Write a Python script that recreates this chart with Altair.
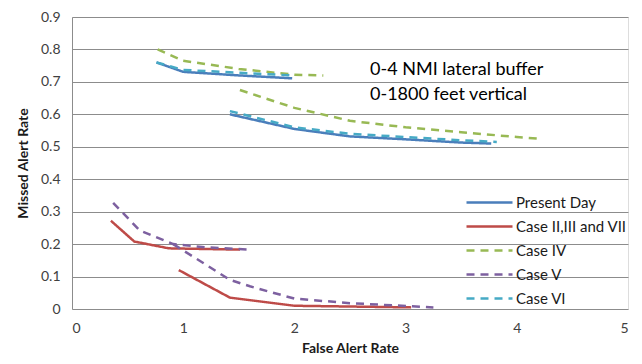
import altair as alt
import pandas as pd

series_names = ["Present Day", "Case II,III and VII", "Case IV", "Case V", "Case VI"]
series_colors = ["#4a7ebb", "#be4b48", "#98b954", "#7d60a0", "#46aac5"]
series_dash = [[1, 0], [1, 0], [8, 6], [8, 6], [8, 6]]

pd1_x = [0.76, 1.0, 1.5, 1.98]
pd1_y = [0.76, 0.731, 0.72, 0.711]
pd2_x = [1.42, 2.0, 2.5, 3.0, 3.5, 3.77]
pd2_y = [0.60, 0.555, 0.532, 0.523, 0.513, 0.51]

red1_x = [0.35, 0.56, 0.87, 1.51]
red1_y = [0.272, 0.208, 0.187, 0.183]
red2_x = [0.96, 1.42, 2.0, 3.05]
red2_y = [0.12, 0.035, 0.01, 0.005]

g1_x = [0.77, 1.0, 1.5, 2.0, 2.26]
g1_y = [0.80, 0.765, 0.74, 0.722, 0.72]
g2_x = [1.51, 2.0, 2.5, 3.0, 3.5, 4.0, 4.2]
g2_y = [0.675, 0.62, 0.58, 0.56, 0.545, 0.53, 0.525]

v1_x = [0.37, 0.61, 0.91, 1.2, 1.6]
v1_y = [0.327, 0.242, 0.20, 0.19, 0.183]
v2_x = [0.91, 1.42, 1.6, 2.0, 2.5, 3.25]
v2_y = [0.20, 0.09, 0.07, 0.032, 0.018, 0.005]

c1_x = [0.76, 1.0, 1.5, 1.98]
c1_y = [0.76, 0.737, 0.728, 0.72]
c2_x = [1.42, 2.0, 2.5, 3.0, 3.5, 3.82]
c2_y = [0.61, 0.56, 0.54, 0.53, 0.52, 0.515]

x_ticks = [0, 1, 2, 3, 4, 5]
y_ticks = [0, 0.1, 0.2, 0.3, 0.4, 0.5, 0.6, 0.7, 0.8, 0.9]

note_lines = ["0-4 NMI lateral buffer", "0-1800 feet vertical"]
note_x = [2.68, 2.68]
note_y = [0.737, 0.66]

segments = [
    ("Present Day", "pd1", pd1_x, pd1_y),
    ("Present Day", "pd2", pd2_x, pd2_y),
    ("Case II,III and VII", "r1", red1_x, red1_y),
    ("Case II,III and VII", "r2", red2_x, red2_y),
    ("Case IV", "g1", g1_x, g1_y),
    ("Case IV", "g2", g2_x, g2_y),
    ("Case V", "v1", v1_x, v1_y),
    ("Case V", "v2", v2_x, v2_y),
    ("Case VI", "c1", c1_x, c1_y),
    ("Case VI", "c2", c2_x, c2_y),
]
rows = []
for name, seg, xs, ys in segments:
    for i, (x, y) in enumerate(zip(xs, ys)):
        rows.append({"series": name, "seg": seg, "i": i, "x": x, "y": y})
df = pd.DataFrame(rows)
notes = pd.DataFrame({"t": note_lines, "x": note_x, "y": note_y})

FONT = "Lato"

X = alt.X("x:Q", scale=alt.Scale(domain=[0, 5]),
          axis=alt.Axis(title="False Alert Rate", values=x_ticks, grid=False,
                        ticks=False, domain=False, labelFontSize=14, labelPadding=12,
                        labelColor="#404040", titleFontSize=14, titleFontWeight="bold",
                        titleColor="#1a1a1a", titlePadding=6, labelFont=FONT, titleFont=FONT))
Y = alt.Y("y:Q", scale=alt.Scale(domain=[0, 0.9]),
          axis=alt.Axis(title="Missed Alert Rate", values=y_ticks,
                        format="~g", grid=True, gridColor="#8c8c8c", gridWidth=1,
                        ticks=False, domain=True, domainColor="#8c8c8c", domainWidth=1,
                        labelFontSize=14, labelPadding=12, labelColor="#404040",
                        titleFontSize=14, titleFontWeight="bold", titleColor="#1a1a1a",
                        titlePadding=10, labelFont=FONT, titleFont=FONT, labelOverlap=False))

lines = alt.Chart(df).mark_line(strokeWidth=2.5).encode(
    x=X,
    y=Y,
    color=alt.Color("series:N", scale=alt.Scale(domain=series_names, range=series_colors),
                    sort=series_names,
                    legend=alt.Legend(title=None, orient="none", legendX=419, legendY=174,
                                      symbolType="M-3.6,0H1", symbolSize=400, symbolStrokeWidth=2.5,
                                      labelFontSize=15, labelFont=FONT, labelColor="#1a1a1a",
                                      labelOffset=2, rowPadding=4)),
    strokeDash=alt.StrokeDash("series:N", scale=alt.Scale(domain=series_names, range=series_dash),
                              sort=series_names, legend=None),
    detail="seg:N",
    order="i:Q",
)

note = alt.Chart(notes).mark_text(align="left", baseline="middle", fontSize=18, font=FONT,
                                  color="#000000").encode(
    x=X, y=Y, text="t:N")

chart = alt.layer(lines, note).properties(
    width=556, height=292,
    autosize=alt.AutoSizeParams(type="none"),
    padding={"left": 64, "top": 9, "right": 6, "bottom": 47},
).configure_view(stroke=None).configure(background="white")

chart.save("out.html", embed_options={"renderer": "svg", "actions": False})
